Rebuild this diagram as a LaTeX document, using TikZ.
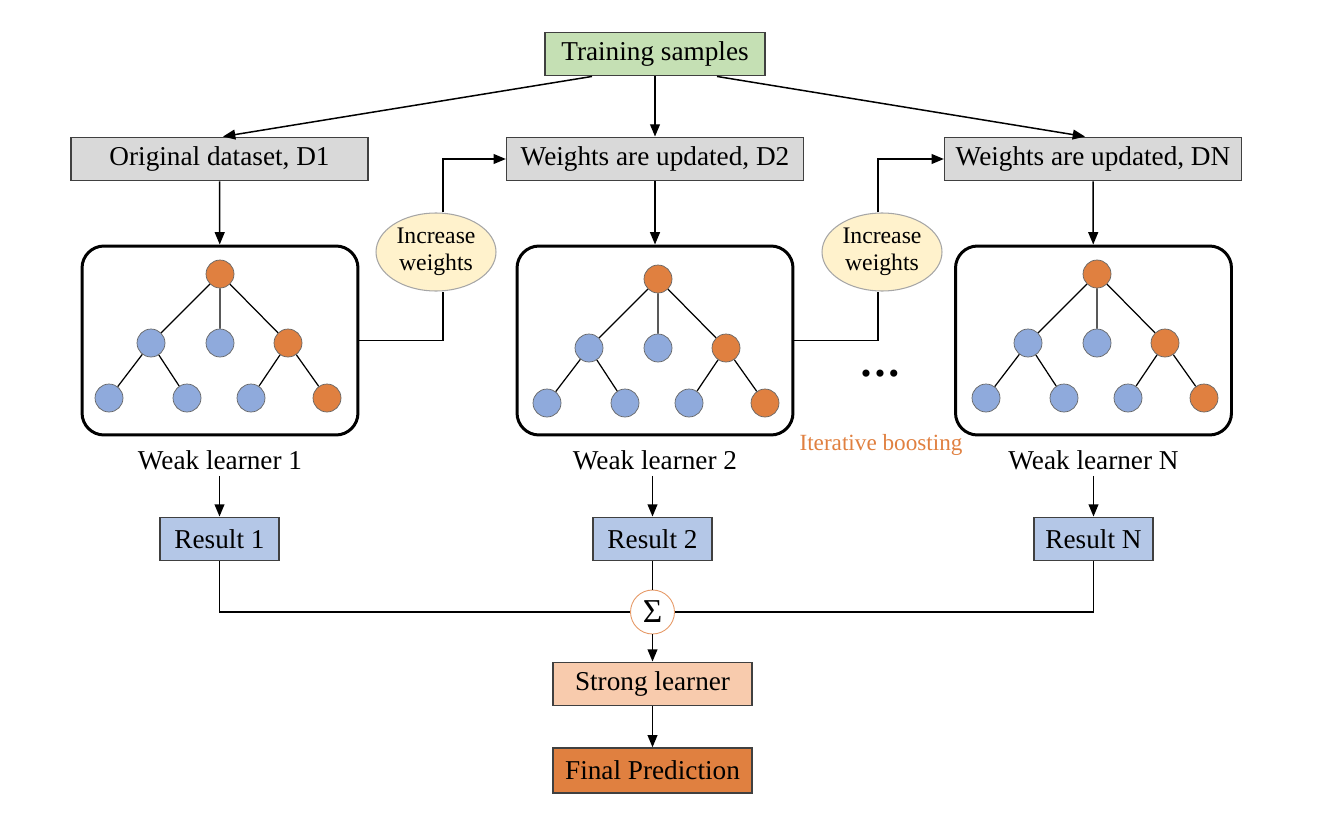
\documentclass[tikz,border=0pt]{standalone}
\usepackage{fontspec}
\setmainfont{Liberation Serif}
\usepackage{xcolor}
\usetikzlibrary{arrows.meta,shapes.geometric,positioning}

\definecolor{boxgray}{RGB}{217,217,217}
\definecolor{samplegreen}{RGB}{197,224,180}
\definecolor{resblue}{RGB}{180,199,231}
\definecolor{nodeblue}{RGB}{143,170,220}
\definecolor{nodeorange}{RGB}{224,128,64}
\definecolor{weightyellow}{RGB}{255,242,204}
\definecolor{stronglight}{RGB}{248,203,173}
\definecolor{edgegray}{RGB}{64,64,64}

\begin{document}
\begin{tikzpicture}[x=0.02cm,y=-0.02cm,
	>={Triangle[length=7pt,width=5.6pt]},
	box/.style={draw=edgegray, line width=0.8pt, inner sep=0pt, minimum height=0.87cm, font=\fontsize{15.5}{18}\selectfont},
	learner/.style={draw=black, line width=1.7pt, rounded corners=0.44cm, minimum width=5.52cm, minimum height=3.78cm},
	leaf/.style={circle, draw=gray!80!black, line width=0.4pt, inner sep=0pt, minimum size=0.56cm, fill=nodeblue},
	hot/.style={leaf, fill=nodeorange},
	weights/.style={ellipse, draw=gray!70, line width=0.6pt, fill=weightyellow, inner sep=0pt, minimum width=2.4cm, minimum height=1.56cm, align=center, font=\fontsize{13.5}{15.5}\selectfont},
	line/.style={line width=0.85pt}
	]
	
	% Parameters
	\def\boxw{5.94cm}
	\def\resw{2.38cm}
	\def\endw{3.98cm}
	
	\useasboundingbox (0,0) rectangle (1324,824);
	
	% training samples
	\node[box, fill=samplegreen, minimum width=4.4cm] (train) at (655,54) {Training samples};
	
	% dataset boxes
	\node[box, fill=boxgray, minimum width=\boxw] (d1) at (219.5,159) {Original dataset, D1};
	\node[box, fill=boxgray, minimum width=\boxw] (d2) at (655,159) {Weights are updated, D2};
	\node[box, fill=boxgray, minimum width=\boxw] (dn) at (1093,159) {Weights are updated, DN};
	
	\draw[line,->] ([xshift=-1.26cm]train.south) -- ([xshift=0.07cm]d1.north);
	\draw[line,->] (train) -- (d2);
	\draw[line,->] ([xshift=1.24cm]train.south) -- ([xshift=-0.16cm]dn.north);
	
	% weak learners with trees
	\foreach \c/\lbl/\bx/\tx/\ty/\rx in {1/1/220/220/274/219.5, 2/2/655/658/279/652.5, n/N/1093.5/1097/274/1093.5} {
		\node[learner] (wl\c) at (\bx,340.5) {};
		
		\node[hot] (root\c) at (\tx,\ty) {};
		\node[leaf] (left\c) at (\tx-69,\ty+69) {};
		\node[leaf] (mid\c) at (\tx,\ty+69) {};
		\node[hot] (right\c) at (\tx+68,\ty+69) {};
		\node[leaf] (ll\c) at (\tx-111,\ty+124) {};
		\node[leaf] (lr\c) at (\tx-33,\ty+124) {};
		\node[leaf] (rl\c) at (\tx+31,\ty+124) {};
		\node[hot] (rr\c) at (\tx+107,\ty+124) {};
		
		\draw[line width=0.7pt] (root\c) -- (left\c) (root\c) -- (mid\c) (root\c) -- (right\c)
		(left\c) -- (ll\c) (left\c) -- (lr\c) (right\c) -- (rl\c) (right\c) -- (rr\c);
		
		\draw[line,->] (d\c) -- (wl\c);
		
		% label and result
		\node[font=\fontsize{15.5}{18}\selectfont] (lab\c) at (\bx,460) {Weak learner \lbl};
		\node[box, fill=resblue, minimum width=\resw] (res\c) at (\rx,539) {Result \lbl};
		\draw[line,->] (res\c.north |- lab\c.south) -- (res\c.north);
	}
	
	% increase weights
	\node[weights] (inc1) at (436,252) {Increase\\weights};
	\node[weights] (inc2) at (882,252) {Increase\\weights};
	\draw[line] (wl1.east) -| ([xshift=0.14cm]inc1.south);
	\draw[line,->] ([xshift=0.14cm]inc1.north) |- (d2.west);
	\draw[line] (wl2.east) -| ([xshift=-0.08cm]inc2.south);
	\draw[line,->] ([xshift=-0.08cm]inc2.north) |- (dn.west);
	
	\node[font=\fontsize{17}{18}\selectfont] (dots) at (880,377) {•\kern0.07cm•\kern0.07cm•};
	\node[text=nodeorange, font=\fontsize{13.2}{16}\selectfont] (iter) at (881,445) {Iterative boosting};
	
	% combine
	\node[circle, draw=nodeorange!80, fill=white, line width=0.5pt, inner sep=0pt, minimum size=0.88cm, font=\fontsize{19}{20}\selectfont] (sum) at (652.5,612) {Σ};
	\node[box, fill=stronglight, minimum width=\endw] (strong) at (652.5,684) {Strong learner};
	\node[box, fill=nodeorange, minimum width=\endw, minimum height=0.9cm] (final) at (652.5,770.5) {Final Prediction};
	
	\draw[line] (res1) |- (sum);
	\draw[line] (resn) |- (sum);
	\draw[line] (res2) -- (sum);
	\draw[line,->] (sum) -- (strong);
	\draw[line,->] (strong) -- (final);
	
\end{tikzpicture}
\end{document}
